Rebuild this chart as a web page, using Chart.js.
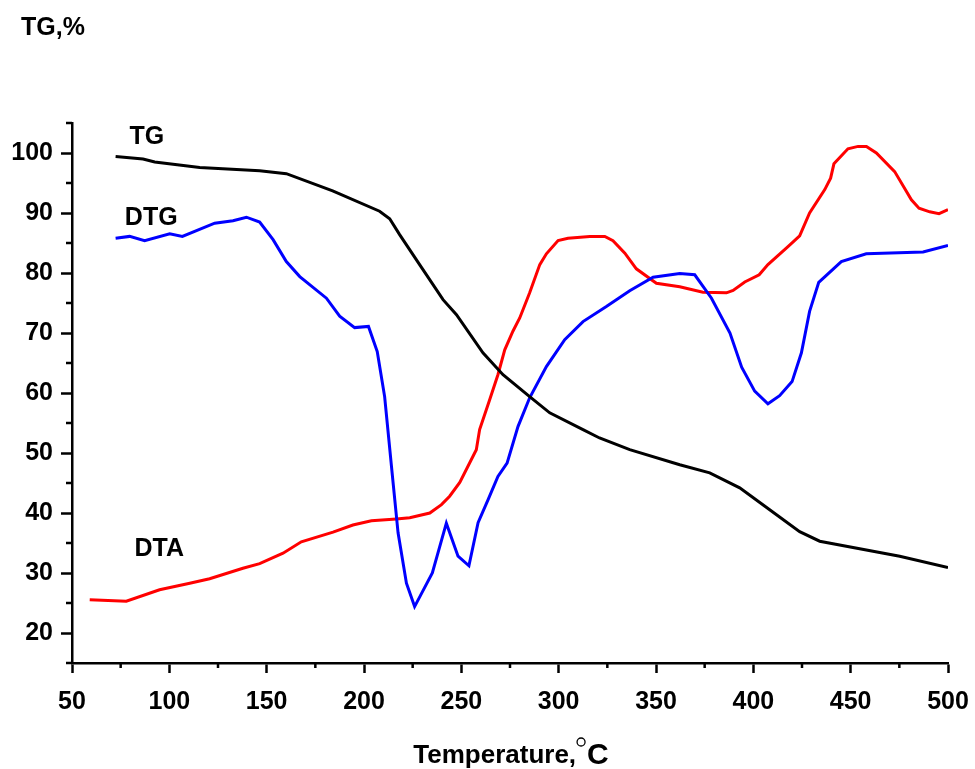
<!DOCTYPE html>
<html lang="en">
<head>
<meta charset="UTF-8">
<title>TG / DTG / DTA</title>
<style>
    body { margin: 0; padding: 0; background: #fff; }
    #wrap { width: 975px; height: 769px; position: relative; }
</style>
</head>
<body>
<div id="wrap"><canvas id="chart"></canvas></div>
<script src="https://cdn.jsdelivr.net/npm/chart.js"></script>
<script>
// data (temperature in °C, value in %)
const tgT  = [72.4, 86.5, 92.5, 115.6, 146.4, 160.1, 183.9, 208.0, 213.2, 218.3, 229.0, 240.6, 247.5, 261.1, 271.4, 285.1, 295.4, 312.5, 321.0, 336.5, 362.2, 377.6, 393.0, 408.4, 423.8, 434.1, 475.2, 500];
const tgV  = [99.4, 99.0, 98.5, 97.6, 97.05, 96.55, 93.7, 90.3, 89.05, 86.4, 81.2, 75.55, 73.05, 66.7, 63.05, 59.4, 56.7, 53.9, 52.5, 50.55, 48.05, 46.7, 44.2, 40.55, 36.9, 35.3, 32.8, 30.9];

const dtgT = [72.4, 79.6, 87.3, 100.2, 106.7, 123.3, 132.7, 139.6, 146.4, 153.3, 160.1, 167.0, 180.7, 187.5, 195.2, 202.3, 206.8, 210.6, 214.1, 217.5, 221.8, 226.0, 235.1, 242.3, 248.3, 253.9, 258.6, 263.7, 268.8, 273.5, 279.1, 285.1, 293.7, 303.1, 312.5, 324.5, 336.5, 348.5, 362.2, 369.9, 378.5, 388.0, 394.0, 400.7, 407.5, 413.5, 419.9, 424.7, 428.9, 433.6, 445.2, 458.0, 487.2, 500];
const dtgV = [85.8, 86.1, 85.4, 86.55, 86.1, 88.3, 88.7, 89.3, 88.5, 85.55, 81.9, 79.4, 75.8, 72.8, 70.9, 71.1, 66.9, 59.4, 47.8, 36.7, 28.3, 24.4, 30.0, 38.3, 32.8, 31.2, 38.4, 42.2, 46.1, 48.3, 54.4, 59.2, 64.4, 68.9, 71.9, 74.4, 77.05, 79.3, 79.9, 79.7, 75.8, 70.0, 64.3, 60.3, 58.2, 59.55, 61.9, 66.7, 73.6, 78.45, 81.9, 83.2, 83.5, 84.6];

const dtaT = [59.1, 77.9, 95.0, 110.5, 120.7, 137.8, 146.4, 158.4, 167.8, 184.1, 194.3, 203.8, 216.6, 223.5, 233.8, 239.8, 244.0, 249.2, 257.7, 259.4, 264.6, 268.8, 272.3, 276.5, 280.0, 285.1, 290.3, 293.7, 299.7, 304.8, 316.0, 323.7, 327.9, 334.0, 339.9, 350.2, 362.2, 374.1, 386.2, 389.6, 395.6, 403.0, 407.5, 417.8, 423.8, 428.9, 436.7, 439.7, 441.4, 448.6, 453.8, 458.1, 463.2, 472.6, 481.2, 485.1, 490.6, 495.4, 500];
const dtaV = [25.55, 25.3, 27.2, 28.3, 29.05, 30.8, 31.55, 33.3, 35.2, 36.8, 38.0, 38.7, 39.0, 39.2, 40.0, 41.4, 42.8, 45.1, 50.55, 53.9, 58.9, 63.05, 67.2, 70.3, 72.5, 76.7, 81.4, 83.2, 85.4, 85.8, 86.1, 86.1, 85.4, 83.3, 80.7, 78.3, 77.7, 76.8, 76.7, 77.1, 78.5, 79.7, 81.4, 84.4, 86.2, 90.0, 93.9, 95.8, 98.2, 100.7, 101.1, 101.1, 100.0, 96.9, 92.2, 90.8, 90.2, 89.9, 90.55];

const xMajor = [50, 100, 150, 200, 250, 300, 350, 400, 450, 500];
const xMinor = [75, 125, 175, 225, 275, 325, 375, 425, 475];
const yMajor = [20, 30, 40, 50, 60, 70, 80, 90, 100];
const yMinor = [15, 25, 35, 45, 55, 65, 75, 85, 95, 105];

// curve names placed at data coordinates
const curveLabels = [
    { text: 'TG',  x: 88.4, y: 102.7 },
    { text: 'DTG', x: 90.7, y: 89.2 },
    { text: 'DTA', x: 94.8, y: 33.9 }
];

const FONT = '"Liberation Sans", Arial, sans-serif';
const pts = (xs, ys) => xs.map((x, i) => ({ x: x, y: ys[i] }));

function line(label, data, color) {
    return {
        label: label,
        data: data,
        borderColor: color,
        backgroundColor: color,
        borderWidth: 3,
        pointRadius: 0,
        tension: 0,
        fill: false
    };
}

const extras = {
    id: 'extras',
    afterDraw(chart) {
        const ctx = chart.ctx;
        const xs = chart.scales.x, ys = chart.scales.y;
        const area = chart.chartArea;
        ctx.save();
        // minor ticks
        ctx.strokeStyle = '#000';
        ctx.lineWidth = 2.5;
        ctx.beginPath();
        xMinor.forEach(v => {
            const px = xs.getPixelForValue(v);
            ctx.moveTo(px, area.bottom);
            ctx.lineTo(px, area.bottom + 5);
        });
        yMinor.forEach(v => {
            const py = ys.getPixelForValue(v);
            ctx.moveTo(area.left, py);
            ctx.lineTo(area.left - 6, py);
        });
        ctx.stroke();

        // curve names
        ctx.fillStyle = '#000';
        ctx.font = 'bold 25px ' + FONT;
        ctx.textAlign = 'center';
        ctx.textBaseline = 'middle';
        curveLabels.forEach(l => {
            ctx.fillText(l.text, xs.getPixelForValue(l.x), ys.getPixelForValue(l.y));
        });

        // y title
        ctx.textAlign = 'left';
        ctx.textBaseline = 'alphabetic';
        ctx.font = 'bold 25px ' + FONT;
        ctx.fillText('TG,%', 21, 35);

        // x title: Temperature,°C
        const part1 = 'Temperature,';
        ctx.font = 'bold 26px ' + FONT;
        const w1 = ctx.measureText(part1).width;
        ctx.font = 'bold 30px ' + FONT;
        const w3 = ctx.measureText('C').width;
        const x0 = 511 - (w1 + 11 + w3) / 2;
        ctx.font = 'bold 26px ' + FONT;
        ctx.fillText(part1, x0, 763);
        ctx.beginPath();
        ctx.lineWidth = 1.3;
        ctx.arc(x0 + w1 + 5, 742, 4, 0, Math.PI * 2);
        ctx.stroke();
        ctx.font = 'bold 30px ' + FONT;
        ctx.fillText('C', x0 + w1 + 11, 764);
        ctx.restore();
    }
};

new Chart(document.getElementById('chart'), {
    type: 'line',
    data: {
        datasets: [
            line('TG', pts(tgT, tgV), '#000000'),
            line('DTG', pts(dtgT, dtgV), '#0000ff'),
            line('DTA', pts(dtaT, dtaV), '#ff0000')
        ]
    },
    options: {
        responsive: true,
        maintainAspectRatio: false,
        animation: false,
        layout: { padding: { top: 123, right: 27, bottom: 0, left: 0 } },
        plugins: { legend: { display: false }, tooltip: { enabled: false } },
        scales: {
            x: {
                type: 'linear',
                min: 50,
                max: 500,
                afterBuildTicks: s => { s.ticks = xMajor.map(v => ({ value: v })); },
                afterFit: s => { s.height = 106; s.paddingLeft = 0; s.paddingRight = 0; },
                ticks: {
                    color: '#000',
                    padding: 14,
                    maxRotation: 0,
                    font: { family: FONT, size: 25, weight: 'bold' }
                },
                grid: { drawOnChartArea: false, tickLength: 10, tickWidth: 2.5, tickColor: '#000' },
                border: { display: true, color: '#000', width: 2.5 }
            },
            y: {
                min: 15,
                max: 105,
                afterBuildTicks: s => { s.ticks = yMajor.map(v => ({ value: v })); },
                afterFit: s => { s.width = 72; s.paddingTop = 0; s.paddingBottom = 0; },
                ticks: {
                    color: '#000',
                    padding: 8,
                    font: { family: FONT, size: 25, weight: 'bold' }
                },
                grid: { drawOnChartArea: false, tickLength: 11, tickWidth: 2.5, tickColor: '#000' },
                border: { display: true, color: '#000', width: 2.5 }
            }
        }
    },
    plugins: [extras]
});
</script>
</body>
</html>
